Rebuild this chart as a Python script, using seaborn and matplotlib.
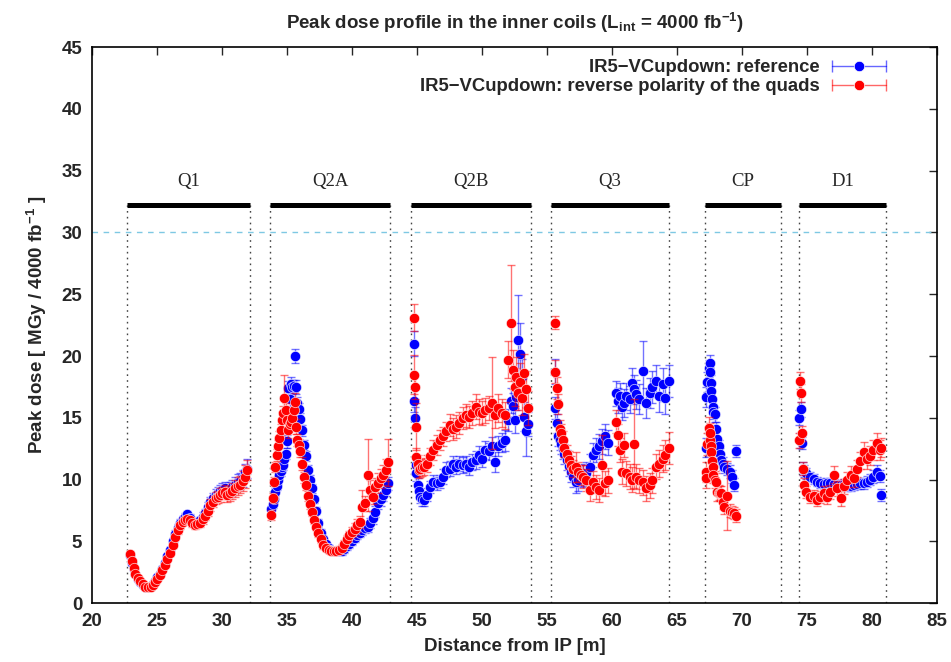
import numpy as np
import pandas as pd
import matplotlib
matplotlib.use("Agg")
import matplotlib.pyplot as plt
import seaborn as sns
from matplotlib.lines import Line2D
from matplotlib.legend_handler import HandlerLine2D, HandlerTuple

# ---------------- data ----------------
ref_label = "IR5\u2212VCupdown: reference"
rev_label = "IR5\u2212VCupdown: reverse polarity of the quads"

q1_x = [22.9, 23.05, 23.2, 23.3, 23.5, 23.7, 23.9, 24.1, 24.3, 24.5,
        24.7, 24.85, 25.0, 25.2, 25.4, 25.6, 25.8, 26.0, 26.2, 26.4,
        26.6, 26.8, 27.0, 27.15, 27.3, 27.5, 27.7, 27.9, 28.1, 28.3,
        28.5, 28.7, 28.9, 29.1, 29.3, 29.5, 29.7, 29.85, 30.0, 30.2,
        30.4, 30.6, 30.8, 31.0, 31.2, 31.4, 31.6, 31.8, 31.95]
q1_ref = [3.9, 3.3, 2.8, 2.4, 2.0, 1.75, 1.5, 1.35, 1.3, 1.4,
          1.55, 1.8, 2.1, 2.4, 2.8, 3.3, 3.8, 4.3, 5.0, 5.6,
          6.1, 6.5, 6.8, 7.0, 7.2, 6.9, 6.6, 6.5, 6.6, 6.7,
          7.0, 7.3, 7.8, 8.2, 8.5, 8.8, 8.9, 9.1, 9.2, 9.3,
          9.1, 9.2, 9.4, 9.6, 9.8, 9.9, 10.1, 10.6, 10.9]
q1_rev = [4.0, 3.4, 2.85, 2.4, 2.05, 1.8, 1.55, 1.35, 1.3, 1.35,
          1.5, 1.75, 2.0, 2.3, 2.7, 3.1, 3.6, 4.05, 4.7, 5.4,
          5.9, 6.3, 6.6, 6.7, 6.8, 6.7, 6.5, 6.3, 6.4, 6.5,
          6.8, 7.1, 7.5, 7.95, 8.2, 8.5, 8.6, 8.75, 8.9, 9.0,
          8.8, 8.9, 9.1, 9.3, 9.5, 9.6, 9.9, 10.25, 10.8]
q1_ref_err = [0.2, 0.2, 0.2, 0.15, 0.15, 0.15, 0.1, 0.1, 0.1, 0.1,
              0.1, 0.15, 0.15, 0.15, 0.2, 0.2, 0.2, 0.25, 0.25, 0.3,
              0.3, 0.3, 0.3, 0.3, 0.3, 0.3, 0.3, 0.3, 0.3, 0.3,
              0.35, 0.35, 0.4, 0.4, 0.45, 0.45, 0.5, 0.5, 0.5, 0.55,
              0.55, 0.6, 0.6, 0.6, 0.65, 0.65, 0.7, 0.7, 0.8]
q1_rev_err = [0.2, 0.2, 0.2, 0.15, 0.15, 0.15, 0.1, 0.1, 0.1, 0.1,
              0.1, 0.15, 0.15, 0.15, 0.2, 0.2, 0.2, 0.25, 0.25, 0.3,
              0.3, 0.3, 0.3, 0.3, 0.3, 0.3, 0.3, 0.3, 0.3, 0.3,
              0.35, 0.35, 0.4, 0.45, 0.45, 0.5, 0.5, 0.55, 0.5, 0.6,
              0.6, 0.6, 0.65, 0.7, 0.7, 0.7, 0.8, 0.9, 0.8]

q2a_x = [33.8, 33.9, 34.0, 34.1, 34.2, 34.3, 34.4, 34.5, 34.6, 34.7,
         34.8, 34.9, 35.0, 35.1, 35.2, 35.3, 35.4, 35.5, 35.6, 35.7,
         35.8, 35.9, 36.0, 36.15, 36.3, 36.45, 36.6, 36.75, 36.9, 37.05,
         37.2, 37.4, 37.6, 37.8, 38.0, 38.2, 38.4, 38.6, 38.8, 39.0,
         39.2, 39.4, 39.6, 39.8, 40.0, 40.2, 40.4, 40.6, 40.8, 41.0,
         41.2, 41.4, 41.6, 41.8, 42.0, 42.2, 42.4, 42.6, 42.8]
q2a_ref = [7.6, 8.0, 8.4, 9.0, 9.5, 10.0, 10.4, 10.7, 11.0, 11.2,
           11.7, 12.1, 13.1, 17.4, 16.5, 17.7, 17.5, 17.6, 20.0, 17.5,
           16.2, 15.7, 14.9, 14.0, 12.8, 11.9, 10.8, 10.0, 9.3, 8.4,
           7.5, 6.5, 5.7, 5.2, 4.8, 4.5, 4.3, 4.25, 4.2, 4.2,
           4.2, 4.4, 4.6, 4.8, 5.0, 5.3, 5.55, 5.7, 5.9, 6.1,
           6.2, 6.5, 6.9, 7.4, 8.1, 8.4, 8.8, 9.2, 9.7]
q2a_rev = [7.15, 8.5, 9.85, 11.05, 12.0, 12.7, 13.4, 14.0, 14.85, 15.4,
           16.6, 15.6, 14.85, 14.0, 14.5, 14.7, 15.0, 15.6, 16.3, 14.3,
           13.2, 12.8, 12.3, 11.3, 10.2, 9.6, 8.7, 8.0, 7.4, 6.75,
           6.2, 5.7, 5.2, 4.7, 4.5, 4.3, 4.2, 4.2, 4.25, 4.3,
           4.5, 4.8, 5.2, 5.5, 5.8, 6.0, 6.3, 6.6, 7.8, 8.1,
           10.4, 9.15, 8.6, 9.4, 9.7, 10.1, 10.4, 10.8, 11.4]
q2a_ref_err = [0.3, 0.3, 0.3, 0.3, 0.35, 0.35, 0.35, 0.4, 0.4, 0.4,
               0.4, 0.45, 0.5, 0.6, 0.5, 0.6, 0.6, 0.5, 0.6, 0.6,
               0.5, 0.5, 0.5, 0.45, 0.4, 0.4, 0.4, 0.35, 0.35, 0.3,
               0.3, 0.3, 0.3, 0.25, 0.25, 0.25, 0.25, 0.25, 0.3, 0.3,
               0.3, 0.3, 0.3, 0.3, 0.3, 0.35, 0.35, 0.35, 0.4, 0.4,
               0.4, 0.4, 0.45, 0.45, 0.5, 0.5, 0.5, 0.5, 0.55]
q2a_rev_err = [0.4, 0.4, 0.4, 0.4, 0.45, 0.5, 0.5, 0.5, 0.6, 0.6,
               1.9, 0.6, 0.6, 0.6, 0.6, 0.6, 0.6, 0.6, 0.7, 0.6,
               0.5, 0.5, 0.5, 0.5, 0.45, 0.4, 0.4, 0.4, 0.35, 0.35,
               0.3, 0.3, 0.3, 0.3, 0.25, 0.25, 0.25, 0.25, 0.3, 0.3,
               0.3, 0.3, 0.35, 0.35, 0.4, 0.5, 0.5, 0.5, 1.4, 0.6,
               2.9, 0.8, 0.6, 0.7, 0.8, 0.8, 0.8, 0.9, 1.9]

q2b_x = [44.75, 44.8, 44.85, 44.9, 44.95, 45.05, 45.15, 45.25, 45.35, 45.5,
         45.75, 46.0, 46.25, 46.5, 46.75, 47.0, 47.25, 47.5, 47.75, 48.0,
         48.25, 48.5, 48.75, 49.0, 49.25, 49.5, 49.75, 50.0, 50.25, 50.5,
         50.75, 51.0, 51.25, 51.5, 51.75, 52.0, 52.2, 52.35, 52.5, 52.65,
         52.8, 52.95, 53.1, 53.25, 53.4, 53.5]
q2b_ref = [16.4, 21.0, 15.0, 11.2, 10.5, 9.6, 9.1, 8.6, 8.4, 8.35,
           8.8, 9.4, 9.85, 9.7, 9.85, 10.25, 10.8, 10.9, 11.3, 11.05,
           11.3, 11.2, 11.3, 11.05, 11.45, 11.6, 12.0, 11.7, 12.4, 12.3,
           12.7, 11.45, 12.7, 13.0, 13.2, 14.8, 16.4, 16.0, 14.8, 16.7,
           21.3, 20.2, 18.3, 15.1, 13.9, 14.5]
q2b_rev = [18.5, 23.1, 17.5, 14.3, 11.8, 11.3, 10.8, 10.9, 11.0, 11.05,
           11.3, 11.9, 12.4, 12.8, 13.2, 13.5, 13.9, 14.4, 14.1, 14.3,
           14.6, 15.0, 15.2, 15.1, 15.4, 15.9, 15.5, 15.4, 15.6, 15.8,
           16.2, 15.2, 15.8, 15.4, 15.2, 19.7, 22.7, 18.9, 17.5, 18.3,
           17.0, 17.9, 16.6, 18.6, 17.3, 15.8]
q2b_ref_err = [0.9, 1.0, 0.9, 0.7, 0.6, 0.5, 0.5, 0.5, 0.5, 0.5,
               0.5, 0.5, 0.55, 0.55, 0.55, 0.6, 0.6, 0.6, 0.6, 0.6,
               0.6, 0.65, 0.65, 0.65, 0.65, 0.7, 0.7, 0.7, 0.7, 0.7,
               0.75, 0.8, 0.8, 0.8, 0.85, 0.9, 1.0, 1.0, 1.0, 1.1,
               3.6, 2.5, 1.5, 1.2, 2.0, 1.0]
q2b_rev_err = [1.6, 1.1, 1.0, 1.9, 0.8, 0.7, 0.7, 0.7, 0.7, 0.7,
               0.7, 0.7, 0.8, 0.8, 0.8, 0.8, 0.8, 0.9, 0.9, 0.9,
               0.9, 0.9, 0.9, 0.9, 1.0, 1.0, 1.0, 1.0, 1.0, 1.0,
               3.7, 1.0, 1.1, 1.1, 1.1, 1.5, 4.7, 1.6, 1.5, 1.6,
               1.4, 1.5, 1.4, 1.6, 1.5, 1.4]

q3_x = [55.6, 55.65, 55.75, 55.85, 56.0, 56.1, 56.2, 56.3, 56.5, 56.7,
        56.85, 57.0, 57.2, 57.4, 57.6, 57.8, 58.0, 58.3, 58.55, 58.8,
        59.0, 59.2, 59.45, 59.7, 60.3, 60.45, 60.6, 60.75, 60.9, 61.1,
        61.35, 61.5, 61.7, 61.85, 62.1, 62.35, 62.6, 62.9, 63.1, 63.4,
        63.65, 63.9, 64.1, 64.4]
q3_ref = [18.75, 15.8, 14.55, 13.5, 13.2, 12.9, 12.5, 12.1, 11.6, 11.1,
          10.65, 10.2, 9.8, 9.96, 10.4, 10.3, 10.5, 11.05, 12.0, 12.4,
          12.7, 13.1, 13.5, 13.0, 17.0, 16.4, 16.75, 15.9, 16.2, 16.75,
          16.5, 17.8, 17.3, 16.9, 16.5, 18.8, 16.2, 17.0, 17.5, 18.0,
          16.75, 17.7, 16.6, 18.0]
q3_rev = [22.7, 18.75, 17.4, 16.1, 14.1, 13.8, 13.2, 12.55, 12.1, 11.6,
          11.2, 10.9, 11.05, 10.65, 10.4, 10.25, 9.96, 9.17, 9.8, 9.4,
          9.17, 11.2, 9.7, 9.96, 14.7, 13.6, 12.4, 10.65, 12.8, 10.5,
          10.25, 10.0, 12.9, 10.25, 9.96, 9.8, 9.3, 9.55, 9.96, 11.05,
          11.3, 11.7, 12.0, 12.55]
q3_ref_err = [1.0, 0.9, 0.8, 0.8, 0.8, 0.8, 0.8, 0.8, 0.8, 0.8,
              0.8, 0.8, 0.9, 0.9, 0.9, 0.9, 0.9, 1.0, 1.0, 1.0,
              1.0, 1.0, 1.0, 1.0, 1.0, 1.0, 1.1, 1.1, 1.1, 1.1,
              1.1, 1.2, 1.2, 1.2, 1.2, 2.4, 1.2, 1.2, 1.3, 1.3,
              1.3, 1.3, 1.3, 1.3]
q3_rev_err = [0.5, 0.9, 0.9, 0.8, 0.7, 0.7, 0.7, 0.7, 0.7, 0.7,
              0.7, 0.7, 1.2, 0.8, 0.8, 0.9, 0.9, 0.9, 0.9, 1.0,
              1.0, 2.4, 1.0, 1.0, 0.9, 0.9, 1.0, 1.0, 1.0, 1.0,
              1.0, 1.0, 3.6, 1.0, 1.0, 1.0, 1.0, 1.0, 1.0, 1.0,
              1.1, 1.1, 1.2, 1.3]

cp_x = [67.2, 67.25, 67.3, 67.45, 67.5, 67.55, 67.6, 67.65, 67.7, 67.75,
        67.8, 67.9, 68.0, 68.1, 68.2, 68.3, 68.4, 68.5, 68.65, 68.85,
        69.05, 69.25, 69.4, 69.55]
cp_ref = [16.7, 12.6, 17.9, 19.0, 19.4, 18.7, 17.8, 17.2, 16.5, 15.9,
          15.5, 15.3, 14.1, 13.3, 12.7, 12.1, 11.6, 11.3, 11.05, 10.85,
          10.65, 10.25, 9.6, 12.3]
cp_rev = [10.65, 10.1, 12.9, 14.2, 13.2, 13.75, 12.7, 12.2, 11.55, 11.0,
          10.4, 10.0, 9.8, 9.0, 8.95, 8.9, 8.9, 8.2, 7.8, 8.7,
          7.5, 7.4, 7.3, 7.1]
cp_ref_err = [0.8, 0.8, 0.8, 0.7, 0.7, 0.7, 0.7, 0.7, 0.7, 0.6,
              0.6, 0.6, 0.6, 0.6, 0.5, 0.5, 0.5, 0.5, 0.5, 0.5,
              0.5, 0.5, 0.5, 0.5]
cp_rev_err = [0.8, 0.8, 0.9, 0.9, 0.8, 0.8, 0.8, 0.8, 0.7, 0.7,
              0.7, 0.7, 0.7, 0.7, 0.6, 0.6, 0.6, 0.6, 0.6, 2.8,
              0.5, 0.5, 0.5, 0.5]

d1_x = [74.35, 74.45, 74.5, 74.6, 74.7, 74.8, 74.95, 75.2, 75.5, 75.75,
        76.0, 76.3, 76.55, 76.8, 77.1, 77.3, 77.6, 77.85, 78.1, 78.35,
        78.6, 78.85, 79.1, 79.35, 79.6, 79.85, 80.1, 80.35, 80.6, 80.7]
d1_ref = [15.0, 13.2, 15.7, 12.95, 10.9, 10.7, 10.5, 10.25, 10.05, 9.85,
          9.75, 9.65, 9.75, 9.7, 9.65, 9.6, 9.6, 9.65, 9.5, 9.45,
          9.55, 9.65, 9.7, 9.7, 9.85, 10.0, 10.25, 10.65, 10.3, 8.75]
d1_rev = [13.2, 18.0, 17.0, 13.75, 10.9, 9.6, 9.0, 8.6, 8.7, 8.35,
          8.6, 8.9, 8.6, 9.0, 10.4, 9.3, 8.5, 9.45, 10.0, 10.4,
          10.1, 10.9, 11.55, 12.25, 11.7, 11.95, 12.4, 13.0, 12.4, 12.6]
d1_ref_err = [0.6, 0.6, 0.6, 0.5, 0.5, 0.45, 0.45, 0.4, 0.4, 0.4,
              0.4, 0.4, 0.4, 0.4, 0.4, 0.4, 0.4, 0.4, 0.4, 0.4,
              0.4, 0.4, 0.45, 0.45, 0.45, 0.45, 0.5, 0.5, 0.5, 0.5]
d1_rev_err = [0.6, 0.7, 0.7, 0.6, 0.5, 0.5, 0.5, 0.5, 0.5, 0.5,
              0.5, 0.6, 0.6, 0.6, 0.7, 0.6, 0.6, 0.6, 0.6, 0.7,
              0.7, 0.7, 0.7, 0.8, 0.8, 0.8, 0.8, 0.8, 0.8, 0.8]

sec_names = ["Q1", "Q2A", "Q2B", "Q3", "CP", "D1"]
sec_start = [22.67, 33.68, 44.55, 55.3, 67.15, 74.4]
sec_end = [32.15, 42.95, 53.77, 64.42, 72.97, 81.05]
sec_bar_level = 32.2
sec_label_level = 34.1
limit_level = 30.0

x_ticks = [20, 25, 30, 35, 40, 45, 50, 55, 60, 65, 70, 75, 80, 85]
y_ticks = [0, 5, 10, 15, 20, 25, 30, 35, 40, 45]

# ---------------- table ----------------
sections = [
    (q1_x, q1_ref, q1_ref_err, q1_rev, q1_rev_err),
    (q2a_x, q2a_ref, q2a_ref_err, q2a_rev, q2a_rev_err),
    (q2b_x, q2b_ref, q2b_ref_err, q2b_rev, q2b_rev_err),
    (q3_x, q3_ref, q3_ref_err, q3_rev, q3_rev_err),
    (cp_x, cp_ref, cp_ref_err, cp_rev, cp_rev_err),
    (d1_x, d1_ref, d1_ref_err, d1_rev, d1_rev_err),
]
rows = []
for xs, r, re_, v, ve in sections:
    for i in range(len(xs)):
        rows.append((xs[i], r[i], re_[i], ref_label))
    for i in range(len(xs)):
        rows.append((xs[i], v[i], ve[i], rev_label))
df = pd.DataFrame(rows, columns=["x", "dose", "err", "series"])

# ---------------- style ----------------
sns.set_style("white")
plt.rcParams["font.family"] = ["Liberation Sans", "DejaVu Sans"]
plt.rcParams["font.weight"] = "bold"
plt.rcParams["axes.labelweight"] = "bold"
plt.rcParams["mathtext.fontset"] = "custom"
plt.rcParams["mathtext.rm"] = "Liberation Sans:bold"
plt.rcParams["mathtext.it"] = "Liberation Sans:bold"
plt.rcParams["mathtext.bf"] = "Liberation Sans:bold"
plt.rcParams["mathtext.default"] = "rm"

colors = {ref_label: "#0000ff", rev_label: "#ff0000"}

fig = plt.figure(figsize=(9.51, 6.62), dpi=100)
ax = fig.add_axes([92 / 951, (662 - 603.3) / 662, 845 / 951, 556.3 / 662])

z = 3
for lab in [ref_label, rev_label]:
    sub = df[df["series"] == lab]
    ax.errorbar(sub["x"], sub["dose"], yerr=sub["err"], fmt="none",
                ecolor=colors[lab], elinewidth=1.0, capsize=3, capthick=1.0,
                alpha=0.55, zorder=z)
    sns.scatterplot(data=sub, x="x", y="dose", color=colors[lab], s=55,
                    edgecolor=(1, 1, 1, 0.7), linewidth=0.6, legend=False,
                    ax=ax, zorder=z + 1)
    z += 2

# limit line
ax.axhline(limit_level, color="#7ec8e3", lw=1.0, ls=(0, (4, 4)), zorder=1)

# magnet sections
ax.vlines(sec_start + sec_end, 0, sec_bar_level, colors="#444444",
          linestyles=(0, (1.2, 3)), lw=1.0, zorder=1)
ax.hlines([sec_bar_level] * len(sec_names), sec_start, sec_end,
          colors="black", lw=3.6, zorder=2)
for n, s, e in zip(sec_names, sec_start, sec_end):
    ax.text((s + e) / 2, sec_label_level, n, ha="center", va="center",
            fontsize=13.5, fontweight="normal", family="Liberation Serif")

ax.set_xlim(20, 85)
ax.set_ylim(0, 45)
ax.set_xticks(x_ticks)
ax.set_yticks(y_ticks)
ax.tick_params(direction="in", top=True, right=True, length=6, width=1,
               labelsize=13.5, pad=7)
for sp in ax.spines.values():
    sp.set_color("black")
    sp.set_linewidth(1.2)

ax.set_xlabel("Distance from IP [m]", fontsize=13.5, fontweight="bold", labelpad=6)
ax.set_ylabel("Peak dose [ MGy / 4000 fb$^{-1}$ ]", fontsize=13.5,
              fontweight="bold", labelpad=9)
ax.set_title("Peak dose profile in the inner coils (L$_{int}$ = 4000 fb$^{-1}$)",
             fontsize=13.5, fontweight="bold", pad=13)

# legend (gnuplot style: text then horizontal error bar with dot)
handles, hmap = [], {}
for lab in [ref_label, rev_label]:
    cap = Line2D([], [], color=colors[lab], lw=1, marker="|", markersize=8,
                 alpha=0.6)
    dot = Line2D([], [], color=colors[lab], marker="o", ls="none",
                 markersize=7.5, markeredgecolor="white", markeredgewidth=0.5)
    hmap[cap] = HandlerLine2D(numpoints=2, marker_pad=0)
    hmap[dot] = HandlerLine2D(numpoints=1)
    handles.append((cap, dot))
hmap[tuple] = HandlerTuple(ndivide=1, pad=0)
ax.legend(handles, [ref_label, rev_label], handler_map=hmap,
          loc="upper right", bbox_to_anchor=(0.9396, 0.978), frameon=False,
          markerfirst=False, handlelength=2.9, handletextpad=0.7,
          labelspacing=0.1, borderpad=0, borderaxespad=0,
          prop={"weight": "bold", "size": 13.3})

fig.savefig("out.png", dpi=100)
